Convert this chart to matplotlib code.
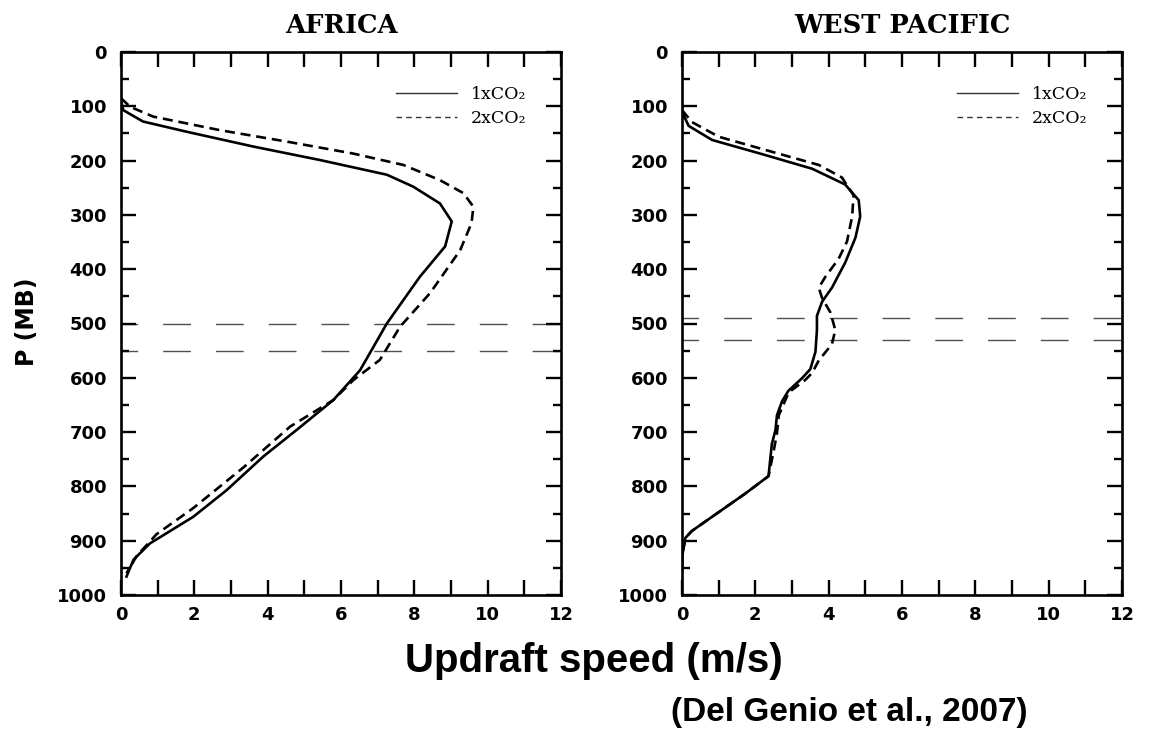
import matplotlib
matplotlib.use("Agg")
import matplotlib.pyplot as plt
from matplotlib.lines import Line2D
from matplotlib.ticker import MultipleLocator

# ---------------- data ----------------
africa_1x_p = [88, 107, 128, 147, 174, 199, 226, 248, 279, 312, 358, 414, 500, 586, 641, 696, 745, 807, 856, 905, 935, 966]
africa_1x_w = [0.0, 0.06, 0.6, 1.8, 3.6, 5.43, 7.25, 7.97, 8.7, 9.02, 8.84, 8.15, 7.25, 6.52, 5.79, 4.79, 3.88, 2.88, 1.97, 0.79, 0.34, 0.15]

africa_2x_p = [85, 101, 119, 144, 165, 187, 208, 236, 260, 285, 315, 365, 444, 506, 567, 604, 641, 690, 765, 840, 888, 928, 960]
africa_2x_w = [0.0, 0.25, 0.88, 2.7, 4.52, 6.33, 7.7, 8.7, 9.34, 9.61, 9.56, 9.25, 8.43, 7.61, 7.06, 6.34, 5.79, 4.61, 3.34, 1.97, 0.97, 0.43, 0.15]

wp_1x_p = [110, 136, 162, 188, 215, 244, 273, 303, 342, 388, 434, 460, 486, 512, 552, 584, 601, 624, 643, 669, 696, 722, 781, 813, 856, 882, 895, 931, 957]
wp_1x_w = [0.0, 0.18, 0.82, 2.18, 3.55, 4.45, 4.82, 4.86, 4.73, 4.45, 4.09, 3.82, 3.68, 3.68, 3.64, 3.5, 3.27, 2.9, 2.73, 2.59, 2.55, 2.45, 2.36, 1.73, 0.82, 0.27, 0.09, 0.0, 0.0]

wp_2x_p = [107, 129, 156, 182, 208, 231, 264, 303, 349, 381, 414, 434, 453, 480, 512, 538, 568, 591, 604, 627, 669, 702, 735, 781, 813, 856, 882, 895, 931, 957]
wp_2x_w = [0.0, 0.27, 1.0, 2.36, 3.73, 4.36, 4.68, 4.64, 4.5, 4.27, 3.91, 3.73, 3.82, 4.05, 4.18, 4.09, 3.73, 3.55, 3.36, 2.91, 2.64, 2.59, 2.5, 2.36, 1.73, 0.82, 0.27, 0.09, 0.0, 0.0]

africa_levels = [500, 550]
wp_levels = [490, 530]

panel_titles = ["AFRICA", "WEST PACIFIC"]
legend_labels = ["1xCO\u2082", "2xCO\u2082"]
x_ticks = [0, 2, 4, 6, 8, 10, 12]
y_ticks = [0, 100, 200, 300, 400, 500, 600, 700, 800, 900, 1000]

# ---------------- figure ----------------
W, H = 1155, 731
fig = plt.figure(figsize=(W / 100, H / 100), dpi=100)
fig.patch.set_facecolor("white")

def px_ax(l, r, t, b):
    return fig.add_axes([l / W, 1 - b / H, (r - l) / W, (b - t) / H])

ax1 = px_ax(121, 561, 52, 595)
ax2 = px_ax(682, 1122, 52, 595)

panels = [
    (ax1, africa_1x_w, africa_1x_p, africa_2x_w, africa_2x_p, africa_levels, panel_titles[0]),
    (ax2, wp_1x_w, wp_1x_p, wp_2x_w, wp_2x_p, wp_levels, panel_titles[1]),
]

for ax, w1, p1, w2, p2, lev, title in panels:
    ax.set_xlim(0, 12)
    ax.set_ylim(1000, 0)
    for lv in lev:
        ax.axhline(lv, color="#505050", lw=1.0, linestyle=(8, (20, 18)), zorder=1)
    ax.plot(w1, p1, color="black", lw=1.9, solid_joinstyle="round", zorder=3)
    ax.plot(w2, p2, color="black", lw=1.9, linestyle=(0, (3.8, 2.2)), zorder=3)

    ax.set_xticks(x_ticks)
    ax.set_yticks(y_ticks)
    ax.xaxis.set_minor_locator(MultipleLocator(1))
    ax.yaxis.set_minor_locator(MultipleLocator(50))
    ax.tick_params(which="both", direction="in", top=True, right=True, width=1.7)
    ax.tick_params(axis="x", which="both", length=10.5, pad=8)
    ax.tick_params(axis="y", which="major", length=10.5, pad=10)
    ax.tick_params(axis="y", which="minor", length=6)
    for lab in ax.get_xticklabels() + ax.get_yticklabels():
        lab.set_fontfamily("DejaVu Sans")
        lab.set_fontweight("bold")
        lab.set_fontsize(13)
    for sp in ax.spines.values():
        sp.set_linewidth(1.9)

    ax.set_title(title, fontfamily="DejaVu Serif", fontweight="bold", fontsize=18.5, pad=14)

    handles = [
        Line2D([], [], color="#333333", lw=1.0),
        Line2D([], [], color="#333333", lw=1.0, linestyle=(0, (4, 3))),
    ]
    ax.legend(handles, legend_labels, loc="upper right",
              bbox_to_anchor=(1 - 26 / 440, 1 - 25 / 543),
              frameon=False, borderpad=0, handlelength=3.5,
              handletextpad=0.8, labelspacing=0.4,
              prop={"family": "DejaVu Serif", "size": 12.5})

fig.text(27 / W, 1 - 322 / H, "P (MB)", rotation=90, ha="center", va="center",
         fontfamily="DejaVu Sans", fontweight="bold", fontsize=17)
fig.text(594 / W, 1 - 672 / H, "Updraft speed (m/s)", ha="center", va="baseline",
         fontfamily="Liberation Sans", fontweight="bold", fontsize=29)
fig.text(849 / W, 1 - 721 / H, "(Del Genio et al., 2007)", ha="center", va="baseline",
         fontfamily="Liberation Sans", fontweight="bold", fontsize=24)

fig.savefig("out.png", dpi=100, facecolor="white")
